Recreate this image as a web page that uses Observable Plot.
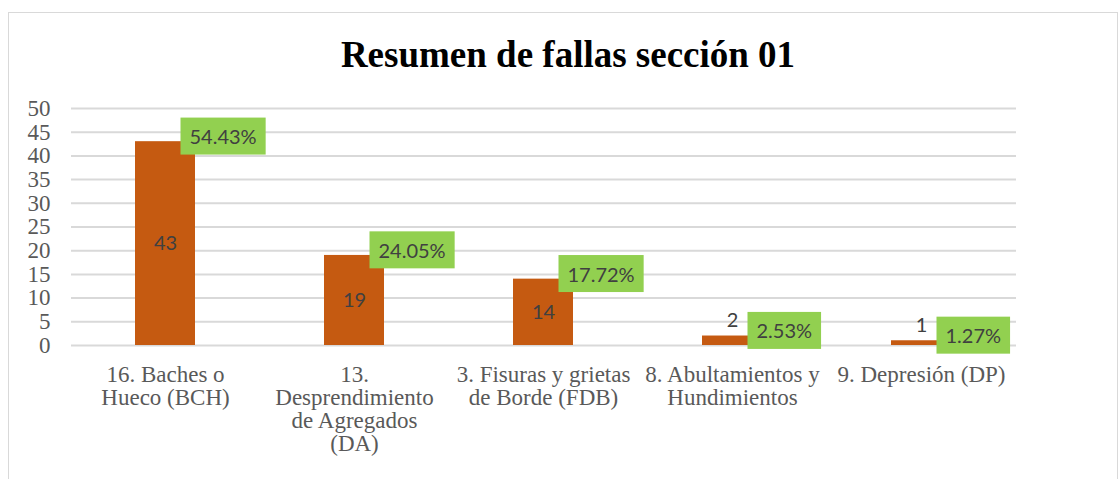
<!DOCTYPE html>
<html>
<head>
<meta charset="utf-8">
<script src="https://cdn.jsdelivr.net/npm/d3@7"></script>
<script src="https://cdn.jsdelivr.net/npm/@observablehq/plot@0.6"></script>
<style>
  html, body { margin: 0; padding: 0; background: #fff; overflow: hidden; }
  #frame { position: absolute; left: 8px; top: 12px; width: 1110px; height: 500px; border: 1.5px solid #d9d9d9; box-sizing: border-box; }
  #chart { position: absolute; left: 0; top: 0; }
</style>
</head>
<body>
<div id="frame"></div>
<div id="chart"></div>
<script>
const title = "Resumen de fallas sección 01";
const categories = [
  "16. Baches o\nHueco (BCH)",
  "13.\nDesprendimiento\nde Agregados\n(DA)",
  "3. Fisuras y grietas\nde Borde (FDB)",
  "8. Abultamientos y\nHundimientos",
  "9. Depresión (DP)"
];
const counts = [43, 19, 14, 2, 1];
const percents = ["54.43%", "24.05%", "17.72%", "2.53%", "1.27%"];
const yTicks = [0, 5, 10, 15, 20, 25, 30, 35, 40, 45, 50];

const data = categories.map((c, i) => ({cat: c, count: counts[i], pct: percents[i]}));

const serif = "Liberation Serif, Times New Roman, serif";
const sans = "Lato, Noto Sans, sans-serif";

const plot = Plot.plot({
  width: 1119,
  height: 479,
  marginLeft: 71,
  marginRight: 103,
  marginTop: 108,
  marginBottom: 134,
  style: {background: "transparent", overflow: "visible", fontFamily: serif},
  x: {domain: categories, paddingInner: 0.68, paddingOuter: 0.34, label: null},
  y: {domain: [0, 50], label: null},
  marks: [
    Plot.gridY(yTicks, {stroke: "#d9d9d9", strokeOpacity: 1, strokeWidth: 2}),
    Plot.barY(data, {x: "cat", y: "count", fill: "#C55A11"}),
    Plot.axisY(yTicks, {tickSize: 0, tickPadding: 21, fontSize: 23, fill: "#595959", tickFormat: d => String(d)}),
    Plot.axisX({tickSize: 0, tickPadding: 20, fontSize: 23, fill: "#595959", lineHeight: 1, lineAnchor: "top"}),
    // count labels: inside bar centre for tall bars, above the bar for short ones
    Plot.text(data.filter(d => d.count >= 5), {x: "cat", y: d => d.count / 2, text: d => String(d.count), fontSize: 20, fontFamily: sans, fill: "#404040"}),
    Plot.text(data.filter(d => d.count < 5), {x: "cat", y: "count", text: d => String(d.count), dy: -15, fontSize: 20, fontFamily: sans, fill: "#404040"}),
    // percentage labels
    Plot.text(data, {x: "cat", y: "count", text: "pct", textAnchor: "start", dx: 24, dy: -4, fontSize: 20, fontFamily: sans, fill: "#404040", className: "pct"}),
    // title
    Plot.text([title], {frameAnchor: "top", dy: -53, text: d => d, fontSize: 37, fontWeight: "bold", fill: "#000", lineAnchor: "middle", dx: 24})
  ]
});

document.getElementById("chart").appendChild(plot);

// green boxes behind the percentage labels
d3.select(plot).selectAll("g.pct text").each(function() {
  const b = this.getBBox();
  const padX = 9, h = 37;
  d3.select(this.parentNode).insert("rect", () => this)
    .attr("x", b.x - padX)
    .attr("y", b.y + b.height / 2 - h / 2)
    .attr("width", b.width + 2 * padX)
    .attr("height", h)
    .attr("transform", this.getAttribute("transform"))
    .attr("fill", "#92D050");
});
</script>
</body>
</html>
